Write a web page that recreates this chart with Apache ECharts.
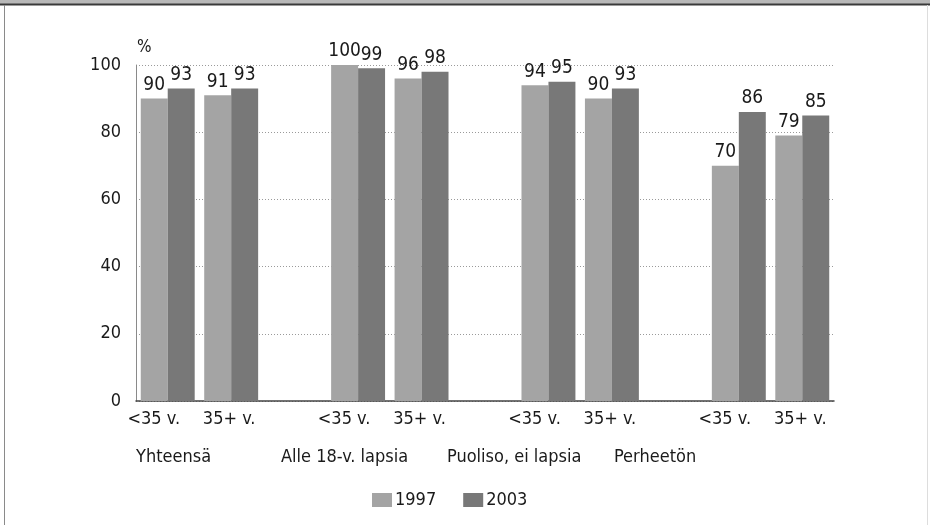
<!DOCTYPE html>
<html>
<head>
<meta charset="utf-8">
<script src="https://cdn.jsdelivr.net/npm/echarts@6/dist/echarts.min.js"></script>
<style>
html,body{margin:0;padding:0;background:#fff;}
#chart{width:930px;height:525px;}
</style>
</head>
<body>
<div id="chart"></div>
<script>
var categories = ['<35 v.', '35+ v.', '', '<35 v.', '35+ v.', '', '<35 v.', '35+ v.', '', '<35 v.', '35+ v.'];
var groupLabels = ['Yhteensä', 'Alle 18-v. lapsia', 'Puoliso, ei lapsia', 'Perheetön'];
var values1997 = [90, 91, null, 100, 96, null, 94, 90, null, 70, 79];
var values2003 = [93, 93, null, 99, 98, null, 95, 93, null, 86, 85];
var seriesNames = ['1997', '2003'];
var yTicks = [0, 20, 40, 60, 80, 100];

var FONT = '"DejaVu Sans Condensed", "Liberation Sans Narrow", sans-serif';
var FS = 18;
var LFS = 19;
var chart = echarts.init(document.getElementById('chart'), null, {renderer: 'canvas'});

var groupX = [136, 281, 447, 614];
var graphics = [
  {type: 'rect', shape: {x: 0, y: 0, width: 930, height: 4}, style: {fill: '#b8b8b8'}, silent: true},
  {type: 'line', shape: {x1: 0, y1: 4.5, x2: 930, y2: 4.5}, style: {stroke: '#3a3a3a', lineWidth: 2}, silent: true},
  {type: 'line', shape: {x1: 4.5, y1: 5, x2: 4.5, y2: 525}, style: {stroke: '#8a8a8a', lineWidth: 1}, silent: true},
  {type: 'line', shape: {x1: 927.5, y1: 5, x2: 927.5, y2: 525}, style: {stroke: '#dddddd', lineWidth: 1}, silent: true},
  {type: 'text', left: 137, top: 39, style: {text: '%', font: '17px ' + FONT, fill: '#1a1a1a'}}
];
groupLabels.forEach(function (g, i) {
  graphics.push({type: 'text', left: groupX[i], top: 448, style: {text: g, font: FS + 'px ' + FONT, fill: '#1a1a1a'}});
});

chart.setOption({
  animation: false,
  backgroundColor: '#ffffff',
  textStyle: {fontFamily: FONT},
  graphic: graphics,
  grid: {left: 136, right: 96, top: 65, bottom: 124, containLabel: false},
  legend: {
    data: seriesNames,
    left: 367, top: 486,
    itemWidth: 20, itemHeight: 14, itemGap: 27,
    icon: 'rect',
    textStyle: {fontSize: FS, color: '#1a1a1a', fontFamily: FONT, padding: [0, 0, 0, -2]}
  },
  xAxis: {
    type: 'category',
    data: categories,
    axisLine: {lineStyle: {color: '#444', width: 1.5}},
    axisTick: {show: false},
    axisLabel: {
      interval: 0,
      margin: 9,
      color: '#1a1a1a',
      fontSize: FS,
      fontFamily: FONT,
      formatter: function (v) { return v.charAt(0) === '<' ? '{a|' + v + '}' : '{b|' + v + '}'; },
      rich: {
        a: {fontSize: FS, fontFamily: FONT, color: '#1a1a1a', padding: [0, 28, 0, 0]},
        b: {fontSize: FS, fontFamily: FONT, color: '#1a1a1a', padding: [0, 4, 0, 0]}
      }
    }
  },
  yAxis: {
    type: 'value',
    min: 0, max: 100, interval: 20,
    axisLine: {show: true, lineStyle: {color: '#8a8a8a', width: 1}},
    axisTick: {show: false},
    axisLabel: {
      margin: 15, color: '#1a1a1a', fontSize: FS, fontFamily: FONT,
      formatter: function (v) { return yTicks.indexOf(v) >= 0 ? String(v) : ''; }
    },
    splitLine: {show: true, lineStyle: {color: '#9a9a9a', type: [1, 2], width: 1}}
  },
  series: [
    {
      name: seriesNames[0], type: 'bar', data: values1997,
      barGap: '0%', barCategoryGap: '15%',
      itemStyle: {color: '#a4a4a4'},
      label: {show: true, position: 'top', distance: 4, fontSize: LFS, color: '#1a1a1a', fontFamily: FONT}
    },
    {
      name: seriesNames[1], type: 'bar', data: values2003,
      barGap: '0%', barCategoryGap: '15%',
      itemStyle: {color: '#787878'},
      label: {show: true, position: 'top', distance: 4, fontSize: LFS, color: '#1a1a1a', fontFamily: FONT}
    }
  ]
});
</script>
</body>
</html>
